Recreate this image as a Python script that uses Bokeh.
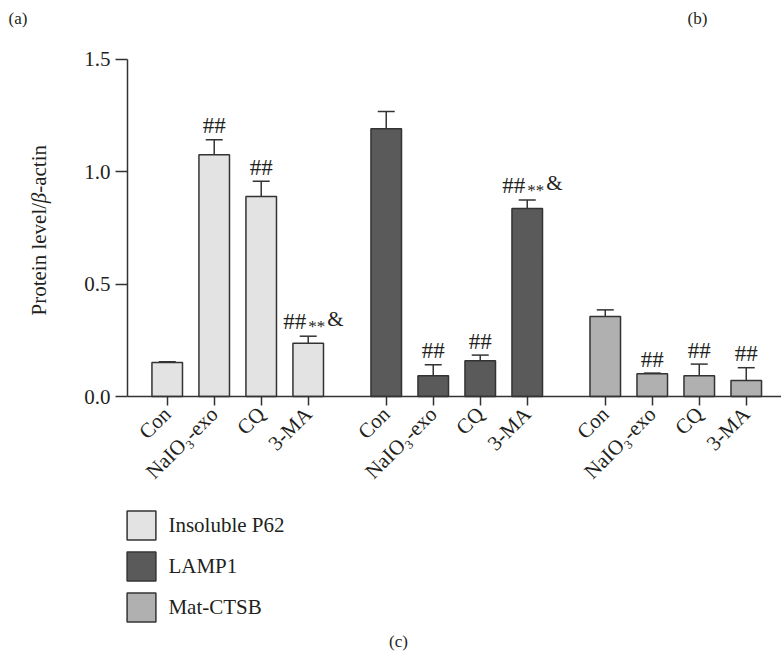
import math
from bokeh.plotting import figure
from bokeh.models import (ColumnDataSource, Range1d, FixedTicker, CustomJSTickFormatter,
                          Whisker, TeeHead, Legend, LegendItem, Label, LinearAxis,
                          NumeralTickFormatter)
from bokeh.core.properties import value
from bokeh.embed import file_html
from bokeh.resources import INLINE

# ---------------- data ----------------
categories = ["Con", "NaIO₃-exo", "CQ", "3-MA"]
series_names = ["Insoluble P62", "LAMP1", "Mat-CTSB"]
p62_mean = [0.151, 1.074, 0.889, 0.237]
p62_err = [0.004, 0.067, 0.068, 0.031]
lamp1_mean = [1.190, 0.092, 0.159, 0.836]
lamp1_err = [0.077, 0.049, 0.025, 0.037]
ctsb_mean = [0.356, 0.101, 0.092, 0.071]
ctsb_err = [0.029, 0.003, 0.052, 0.057]
p62_sig = ["", "##", "##", "##**&"]
lamp1_sig = ["", "##", "##", "##**&"]
ctsb_sig = ["", "##", "##", "##"]
y_ticks = [0.0, 0.5, 1.0, 1.5]
y_label_parts = ["Protein level/", "β", "-actin"]

# ---------------- layout / style ----------------
W, H = 781, 665
FRAME_LEFT_PX, FRAME_BOTTOM_PX = 127, 396      # axis corner, pixels from top-left
PX_PER_X, PX_PER_Y = 47.0, 225.0
X_AXIS_START = -0.845
Y_AXIS_TOP = 1.5
GROUP_STEP = 4.66
BAR_WIDTH = 0.65
FILLS = ["#e3e3e3", "#5a5a5a", "#b0b0b0"]
EDGE = "#333333"
TXT = "#231f20"
FONT = "Liberation Serif"

x_start = X_AXIS_START - FRAME_LEFT_PX / PX_PER_X
x_end = x_start + W / PX_PER_X
y_end = FRAME_BOTTOM_PX / PX_PER_Y
y_start = -(H - FRAME_BOTTOM_PX) / PX_PER_Y

p = figure(width=W, height=H, output_backend="svg", toolbar_location=None,
           x_range=Range1d(x_start, x_end), y_range=Range1d(y_start, y_end),
           min_border=0, min_border_left=0, min_border_right=0,
           min_border_top=0, min_border_bottom=0)
p.outline_line_color = None
p.xgrid.visible = False
p.ygrid.visible = False
p.xaxis.visible = False
p.yaxis.visible = False

means = [p62_mean, lamp1_mean, ctsb_mean]
errs = [p62_err, lamp1_err, ctsb_err]
sigs = [p62_sig, lamp1_sig, ctsb_sig]

all_x = []
legend_items = []
simple = dict(x=[], y=[], t=[])
comp_hash = dict(x=[], y=[], t=[])
comp_star = dict(x=[], y=[], t=[])
comp_amp = dict(x=[], y=[], t=[])

for g, name in enumerate(series_names):
    xs = [i + g * GROUP_STEP for i in range(len(categories))]
    all_x += xs
    upper = [m + e for m, e in zip(means[g], errs[g])]
    src = ColumnDataSource(dict(x=xs, top=means[g], upper=upper))
    r = p.vbar(x="x", top="top", width=BAR_WIDTH, bottom=0, source=src,
               fill_color=FILLS[g], line_color=EDGE, line_width=1.5)
    legend_items.append(LegendItem(label=name, renderers=[r]))
    w = Whisker(source=src, base="x", lower="top", upper="upper", dimension="height",
                line_color=EDGE, line_width=1.5, lower_head=None,
                upper_head=TeeHead(size=17, line_color=EDGE, line_width=1.5))
    p.add_layout(w)
    for x, u, s in zip(xs, upper, sigs[g]):
        if not s:
            continue
        if s == "##":
            simple["x"].append(x); simple["y"].append(u); simple["t"].append("##")
        else:
            comp_hash["x"].append(x); comp_hash["y"].append(u); comp_hash["t"].append(s[:2])
            comp_star["x"].append(x); comp_star["y"].append(u); comp_star["t"].append(s[2:4])
            comp_amp["x"].append(x); comp_amp["y"].append(u); comp_amp["t"].append(s[4:])

common = dict(x="x", y="y", text="t", text_baseline="alphabetic",
              text_font=value(FONT), text_color=TXT)
p.text(source=ColumnDataSource(simple), text_align="center", y_offset=-14,
       text_font_size="23px", **common)
p.text(source=ColumnDataSource(comp_hash), text_align="right", x_offset=-2, y_offset=-15,
       text_font_size="23px", **common)
p.text(source=ColumnDataSource(comp_star), text_align="left", x_offset=0, y_offset=-10,
       text_font_size="17px", **common)
p.text(source=ColumnDataSource(comp_amp), text_align="left", x_offset=19, y_offset=-17,
       text_font_size="21px", **common)

# ---------------- axes ----------------
yax = LinearAxis(ticker=FixedTicker(ticks=y_ticks), formatter=NumeralTickFormatter(format="0.0"),
                 fixed_location=X_AXIS_START, bounds=(0, Y_AXIS_TOP))
yax.major_tick_out = 12
yax.major_tick_in = 0
yax.minor_tick_line_color = None
yax.axis_line_width = 1.5
yax.axis_line_color = EDGE
yax.major_tick_line_color = EDGE
yax.major_tick_line_width = 1.5
yax.major_label_text_font = FONT
yax.major_label_text_font_size = "21px"
yax.major_label_text_color = TXT
yax.major_label_standoff = 5
p.add_layout(yax, "left")

xax = LinearAxis(ticker=FixedTicker(ticks=all_x), fixed_location=0, bounds=(X_AXIS_START, x_end),
                 formatter=CustomJSTickFormatter(args=dict(labels=categories),
                                                 code="return labels[index % labels.length];"))
xax.major_tick_out = 9
xax.major_tick_in = 0
xax.minor_tick_line_color = None
xax.axis_line_width = 1.5
xax.axis_line_color = EDGE
xax.major_tick_line_color = EDGE
xax.major_tick_line_width = 1.5
xax.major_label_orientation = math.pi / 4
xax.major_label_text_font = FONT
xax.major_label_text_font_size = "21px"
xax.major_label_text_color = TXT
xax.major_label_standoff = 5
p.add_layout(xax, "below")

# y-axis title in three pieces (italic beta), rotated
LBL_SIZE = 21
widths_em = [5.341, 0.5, 2.277]
ypos = H - 315
for part, wem, style in zip(y_label_parts, widths_em, ["normal", "italic", "normal"]):
    p.add_layout(Label(x=38, y=ypos, x_units="screen", y_units="screen", text=part,
                       angle=math.pi / 2, text_align="left", text_baseline="middle",
                       text_font=FONT, text_font_size=f"{LBL_SIZE}px",
                       text_font_style=style, text_color=TXT))
    ypos += wem * LBL_SIZE

legend = Legend(items=legend_items, location=(123.4, H - 625.3), orientation="vertical",
                glyph_width=36, glyph_height=36, spacing=5, padding=0, margin=0,
                label_standoff=9, label_text_font=FONT, label_text_font_size="21px",
                label_text_color=TXT, border_line_alpha=0, background_fill_alpha=0)
p.add_layout(legend)

for txt, x, y, align in [("(a)", 8, H - 27, "left"), ("(b)", 687, H - 27, "left"),
                         ("(c)", 398, H - 650, "center")]:
    p.add_layout(Label(x=x, y=y, x_units="screen", y_units="screen", text=txt,
                       text_font=FONT, text_font_size="17px", text_color=TXT,
                       text_align=align))

open("out.html", "w").write(file_html(p, INLINE))
